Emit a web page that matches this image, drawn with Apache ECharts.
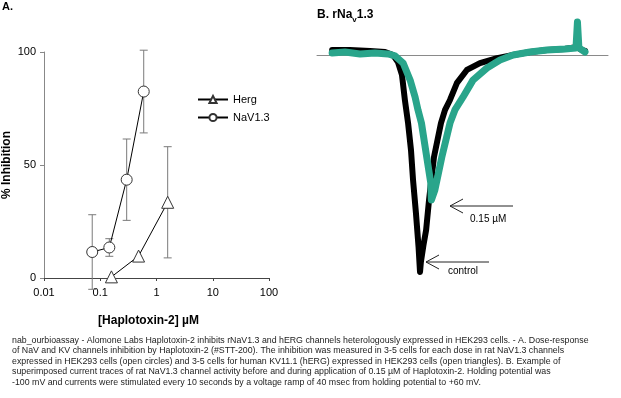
<!DOCTYPE html>
<html>
<head>
<meta charset="utf-8">
<script src="https://cdn.jsdelivr.net/npm/echarts@6/dist/echarts.min.js"></script>
<style>
  html, body { margin: 0; padding: 0; background: #fff; }
  #chart { width: 621px; height: 398px; }
</style>
</head>
<body>
<div id="chart"></div>
<script>
// panel A: dose-response (concentration in uM, % inhibition, error)
var hergDose = [0.158, 0.48, 1.58];
var hergInhib = [0.5, 9.7, 33.5];
var hergErr = [0, 0, 24.6];

var navDose = [0.072, 0.145, 0.295, 0.593];
var navInhib = [11.5, 13.5, 43.5, 82.5];
var navErr = [16.5, 3.9, 18, 18.3];

var xTicks = ['0.01', '0.1', '1', '10', '100'];
var yTicks = [0, 50, 100];

// panel B: current traces (time, arbitrary units; current, % of control peak)
var ctrlTime = [5.2, 11.3, 18.2, 23.4, 26.1, 27.8, 29.2, 30.2, 31.3, 32.3, 33.0, 34.0, 34.9, 35.4, 35.7, 36.6, 37.5, 38.5, 40.2, 42.6, 44.0, 45.7, 48.1, 51.5, 56.0, 61.9, 67.4, 73.2, 79.0, 85.2, 89.3, 91.1, 92.1];
var ctrlCurrent = [2.6, 2.6, 2.2, 1.7, 0.3, -2.9, -8.9, -20.5, -31.2, -43.7, -57.5, -72.8, -88.6, -100.1, -95.5, -87.6, -80.7, -66.8, -46.9, -31.2, -25.1, -20.5, -12.6, -6.6, -3.4, -1.1, 0.3, 1.7, 2.6, 3.1, 4.0, 2.6, 2.2];

var toxTime = [5.2, 9.6, 14.8, 19.9, 24.4, 26.8, 29.6, 32.0, 33.7, 34.7, 35.9, 37.7, 39.1, 39.3, 40.5, 41.6, 42.9, 45.7, 47.4, 50.2, 53.6, 58.4, 62.9, 67.4, 73.2, 79.0, 85.2, 89.0, 89.5, 90.0, 92.1];
var toxCurrent = [1.3, 1.7, 0.8, 1.3, 0.8, -0.1, -3.4, -11.3, -19.1, -25.1, -31.2, -46.9, -58.9, -66.8, -62.2, -55.2, -46.9, -31.2, -25.1, -19.1, -11.3, -5.7, -2.0, 0.3, 1.7, 2.6, 3.1, 3.6, 15.6, 3.6, 1.7];

var captionLines = [
  'nab_ourbioassay - Alomone Labs Haplotoxin-2 inhibits rNaV1.3 and hERG channels heterologously expressed in HEK293 cells. - A. Dose-response',
  'of NaV and KV channels inhibition by Haplotoxin-2 (#STT-200). The inhibition was measured in 3-5 cells for each dose in rat NaV1.3 channels',
  'expressed in HEK293 cells (open circles) and 3-5 cells for human KV11.1 (hERG) expressed in HEK293 cells (open triangles). B. Example of',
  'superimposed current traces of rat NaV1.3 channel activity before and during application of 0.15 \u00b5M of Haplotoxin-2. Holding potential was',
  '-100 mV and currents were stimulated every 10 seconds by a voltage ramp of 40 msec from holding potential to +60 mV.'
];

function zip(a, b, c) {
  return a.map(function (v, i) { return c ? [v, b[i], c[i]] : [v, b[i]]; });
}

var narrow = '"Liberation Sans Narrow", "Arial Narrow", Arial, sans-serif';

function errorBars(params, api) {
  var x = api.value(0), y = api.value(1), e = api.value(2);
  if (!e) return null;
  var top = api.coord([x, y + e]);
  var bot = api.coord([x, y - e]);
  var w = 4;
  var st = { stroke: '#7a7a7a', lineWidth: 1 };
  return {
    type: 'group',
    children: [
      { type: 'line', shape: { x1: top[0], y1: top[1], x2: bot[0], y2: bot[1] }, style: st },
      { type: 'line', shape: { x1: top[0] - w, y1: top[1], x2: top[0] + w, y2: top[1] }, style: st },
      { type: 'line', shape: { x1: bot[0] - w, y1: bot[1], x2: bot[0] + w, y2: bot[1] }, style: st }
    ]
  };
}

var chart = echarts.init(document.getElementById('chart'), null, { renderer: 'canvas' });

var graphics = [
  { type: 'text', left: 2, top: 1, style: { text: 'A.', font: 'bold 11px Arial, sans-serif', fill: '#000' } },
  {
    type: 'text', left: 317, top: 9,
    style: {
      text: '{b|B. rNa}{s|v}{b|1.3}',
      rich: {
        b: { font: 'bold 12px Arial, sans-serif', fill: '#000' },
        s: { font: 'bold 8px Arial, sans-serif', fill: '#000', padding: [9, 0, 0, 0] }
      }
    }
  },
  // arrow 0.15 uM
  { type: 'line', shape: { x1: 450, y1: 206, x2: 513, y2: 206 }, style: { stroke: '#222', lineWidth: 1 } },
  { type: 'polyline', shape: { points: [[463, 199], [450, 206], [463, 213]] }, style: { stroke: '#222', lineWidth: 1, fill: null } },
  { type: 'text', left: 470, top: 214, style: { text: '0.15 \u00b5M', font: '10px ' + narrow, fill: '#000' } },
  // arrow control
  { type: 'line', shape: { x1: 426, y1: 262, x2: 489, y2: 262 }, style: { stroke: '#222', lineWidth: 1 } },
  { type: 'polyline', shape: { points: [[439, 255], [426, 262], [439, 269]] }, style: { stroke: '#222', lineWidth: 1, fill: null } },
  { type: 'text', left: 448, top: 266, style: { text: 'control', font: '10px ' + narrow, fill: '#000' } }
];

captionLines.forEach(function (line, i) {
  graphics.push({
    type: 'text', left: 12, top: 336 + i * 10.5,
    style: { text: line, font: '8.8px ' + narrow, fill: '#222' }
  });
});

var option = {
  animation: false,
  backgroundColor: '#fff',
  graphic: graphics,
  legend: {
    left: 192, top: 89, orient: 'vertical', itemGap: 7,
    itemWidth: 30, itemHeight: 9,
    data: ['Herg', 'NaV1.3'],
    textStyle: { fontFamily: narrow, fontSize: 11, color: '#000' }
  },
  grid: [
    { left: 44, right: 352, top: 52, bottom: 120 },
    { left: 317, right: 13, top: 12.5, bottom: 104.7 }
  ],
  xAxis: [
    {
      type: 'log', logBase: 10, min: 0.01, max: 100, gridIndex: 0,
      name: '[Haplotoxin-2] \u00b5M', nameLocation: 'middle', nameGap: 37,
      nameTextStyle: { fontFamily: 'Arial, sans-serif', fontWeight: 'bold', fontSize: 12, color: '#000', padding: [0, 16, 0, 0] },
      axisLine: { lineStyle: { color: '#444', width: 1 } },
      axisTick: { show: true, length: 3, lineStyle: { color: '#444' } },
      minorTick: { show: false },
      axisLabel: {
        fontFamily: narrow, fontSize: 11, color: '#000', margin: 9,
        formatter: function (v) {
          var i = Math.round(Math.log10(v)) + 2;
          return xTicks[i] !== undefined ? xTicks[i] : '';
        }
      },
      splitLine: { show: false }
    },
    {
      type: 'value', min: 0, max: 100, gridIndex: 1,
      axisLine: { show: true, onZero: true, lineStyle: { color: '#8a8a8a', width: 1 } },
      axisTick: { show: false }, axisLabel: { show: false }, splitLine: { show: false }
    }
  ],
  yAxis: [
    {
      type: 'value', min: yTicks[0], max: yTicks[yTicks.length - 1], interval: 50, gridIndex: 0,
      name: '% Inhibition', nameLocation: 'middle', nameGap: 31, nameRotate: 90,
      nameTextStyle: { fontFamily: 'Arial, sans-serif', fontWeight: 'bold', fontSize: 12, color: '#000' },
      axisLine: { show: true, lineStyle: { color: '#888', width: 1 } },
      axisTick: { show: true, length: 4, lineStyle: { color: '#888' } },
      axisLabel: { fontFamily: narrow, fontSize: 11, color: '#000', margin: 8 },
      splitLine: { show: false }
    },
    {
      type: 'value', min: -110, max: 20, gridIndex: 1, show: false
    }
  ],
  series: [
    {
      type: 'custom', name: 'hergErr', xAxisIndex: 0, yAxisIndex: 0,
      renderItem: errorBars, data: zip(hergDose, hergInhib, hergErr), clip: false, z: 1
    },
    {
      type: 'custom', name: 'navErr', xAxisIndex: 0, yAxisIndex: 0,
      renderItem: errorBars, data: zip(navDose, navInhib, navErr), clip: false, z: 1
    },
    {
      type: 'line', name: 'Herg', xAxisIndex: 0, yAxisIndex: 0,
      data: zip(hergDose, hergInhib),
      symbol: 'triangle', symbolSize: 12,
      lineStyle: { color: '#000', width: 1 },
      itemStyle: { color: '#fff', borderColor: '#333', borderWidth: 1 },
      z: 3
    },
    {
      type: 'line', name: 'NaV1.3', xAxisIndex: 0, yAxisIndex: 0,
      data: zip(navDose, navInhib),
      symbol: 'circle', symbolSize: 11,
      lineStyle: { color: '#000', width: 1 },
      itemStyle: { color: '#fff', borderColor: '#333', borderWidth: 1 },
      z: 3
    },
    {
      type: 'line', name: 'control', xAxisIndex: 1, yAxisIndex: 1,
      data: zip(ctrlTime, ctrlCurrent),
      showSymbol: false, symbol: 'none',
      lineStyle: { color: '#000', width: 6, cap: 'round', join: 'round' },
      z: 2
    },
    {
      type: 'line', name: '0.15 uM', xAxisIndex: 1, yAxisIndex: 1,
      data: zip(toxTime, toxCurrent),
      showSymbol: false, symbol: 'none',
      lineStyle: { color: '#29a58b', width: 7, cap: 'round', join: 'round' },
      z: 3
    }
  ]
};

chart.setOption(option);
</script>
</body>
</html>
